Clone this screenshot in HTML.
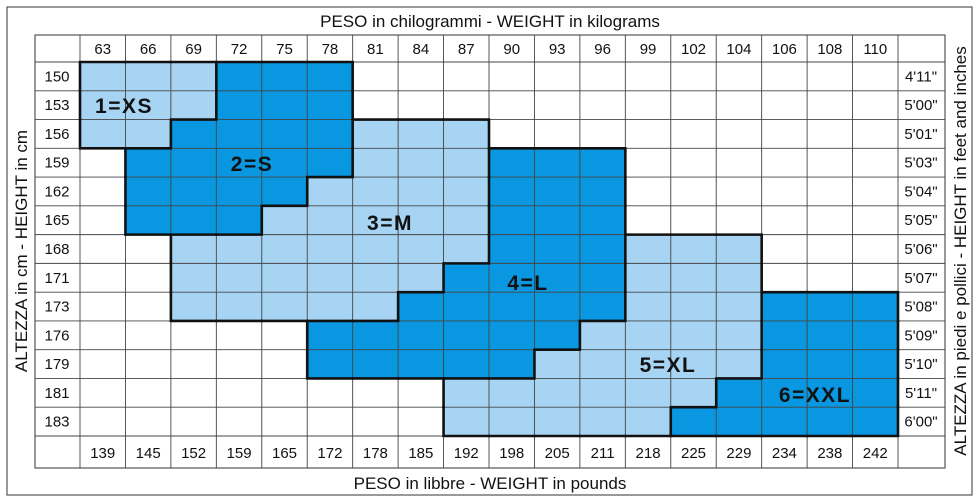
<!DOCTYPE html>
<html><head><meta charset="utf-8"><style>
body{margin:0;background:#fff}
svg{display:block;font-family:"Liberation Sans",sans-serif}
</style></head><body>
<svg id="s" width="979" height="502" xmlns="http://www.w3.org/2000/svg"></svg>
<script>
const s=document.getElementById('s');
let h='';
const X0=80,CW=(898-80)/18,Y0=62,RH=(436-62)/13;
const L='#a8d4f4',D='#0897e0';
const spec=[
[[1,0,2],[2,3,5]],
[[1,0,2],[2,3,5]],
[[1,0,1],[2,2,5],[3,6,8]],
[[2,1,5],[3,6,8],[4,9,11]],
[[2,1,4],[3,5,8],[4,9,11]],
[[2,1,3],[3,4,8],[4,9,11]],
[[3,2,8],[4,9,11],[5,12,14]],
[[3,2,7],[4,8,11],[5,12,14]],
[[3,2,6],[4,7,11],[5,12,14],[6,15,17]],
[[4,5,10],[5,11,14],[6,15,17]],
[[4,5,9],[5,10,14],[6,15,17]],
[[5,8,13],[6,14,17]],
[[5,8,12],[6,13,17]]];
const g=[];for(let r=0;r<13;r++){g.push(new Array(18).fill(0));for(const[k,a,b]of spec[r])for(let c=a;c<=b;c++)g[r][c]=k;}
const at=(r,c)=>(r<0||r>12||c<0||c>17)?0:g[r][c];
h+='<rect x="7" y="7" width="965" height="488" fill="#fff" stroke="#555" stroke-width="1.2"/>';
h+='<rect x="35" y="35" width="910" height="433" fill="#fff" stroke="#555" stroke-width="1.2"/>';
for(let r=0;r<13;r++)for(let c=0;c<18;c++){const k=g[r][c];if(k)h+=`<rect x="${X0+c*CW}" y="${Y0+r*RH}" width="${CW+0.5}" height="${RH+0.5}" fill="${k%2?L:D}"/>`;}
for(let c=0;c<=18;c++){const x=X0+c*CW;h+=`<line x1="${x}" y1="35" x2="${x}" y2="468" stroke="#444" stroke-width="0.9"/>`;}
h+=`<line x1="35" y1="${Y0}" x2="945" y2="${Y0}" stroke="#444" stroke-width="0.9"/>`;
for(let r=0;r<=13;r++){const y=Y0+r*RH;h+=`<line x1="35" y1="${y}" x2="945" y2="${y}" stroke="#444" stroke-width="0.9"/>`;}
for(let r=0;r<=13;r++)for(let c=0;c<18;c++){const a=at(r-1,c),b=at(r,c);if(a!==b){const y=Y0+r*RH;h+=`<line x1="${X0+c*CW-1}" y1="${y}" x2="${X0+(c+1)*CW+1}" y2="${y}" stroke="#111" stroke-width="2.6"/>`;}}
for(let r=0;r<13;r++)for(let c=0;c<=18;c++){const a=at(r,c-1),b=at(r,c);if(a!==b){const x=X0+c*CW;h+=`<line x1="${x}" y1="${Y0+r*RH-1}" x2="${x}" y2="${Y0+(r+1)*RH+1}" stroke="#111" stroke-width="2.6"/>`;}}
const kg=[63,66,69,72,75,78,81,84,87,90,93,96,99,102,104,106,108,110];
const lb=[139,145,152,159,165,172,178,185,192,198,205,211,218,225,229,234,238,242];
const cm=[150,153,156,159,162,165,168,171,173,176,179,181,183];
const ft=["4'11\"","5'00\"","5'01\"","5'03\"","5'04\"","5'05\"","5'06\"","5'07\"","5'08\"","5'09\"","5'10\"","5'11\"","6'00\""];
for(let c=0;c<18;c++){const x=X0+c*CW+CW/2;h+=`<text x="${x}" y="54" font-size="15" text-anchor="middle" fill="#111">${kg[c]}</text><text x="${x}" y="458" font-size="15" text-anchor="middle" fill="#111">${lb[c]}</text>`;}
for(let r=0;r<13;r++){const y=Y0+r*RH+RH/2+5;h+=`<text x="57" y="${y}" font-size="15" text-anchor="middle" fill="#111">${cm[r]}</text><text x="921" y="${y}" font-size="15" text-anchor="middle" fill="#111">${ft[r]}</text>`;}
h+='<text x="490" y="27" font-size="17" text-anchor="middle" fill="#111">PESO in chilogrammi -  WEIGHT in kilograms</text>';
h+='<text x="490" y="489" font-size="17" text-anchor="middle" fill="#111">PESO in libbre -  WEIGHT in pounds</text>';
h+='<text transform="translate(27,251) rotate(-90)" font-size="17" text-anchor="middle" fill="#111">ALTEZZA in cm  -  HEIGHT in cm</text>';
h+='<text transform="translate(966,251) rotate(-90)" font-size="17" text-anchor="middle" fill="#111">ALTEZZA in piedi e pollici - HEIGHT in feet and inches</text>';
const labs=[["1=XS",124,113],["2=S",252,171],["3=M",390,230],["4=L",528,290],["5=XL",668,372],["6=XXL",815,402]];
for(const[t,x,y]of labs)h+=`<text x="${x}" y="${y}" font-size="21" font-weight="bold" letter-spacing="1.5" text-anchor="middle" fill="#111">${t}</text>`;
s.innerHTML=h;
</script>
</body></html>
